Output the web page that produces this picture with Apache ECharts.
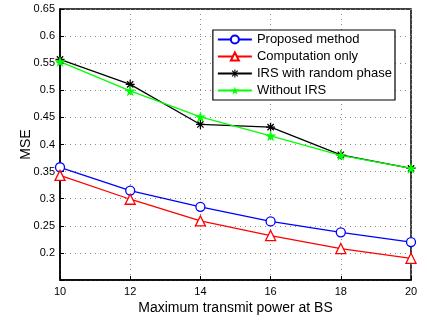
<!DOCTYPE html>
<html>
<head>
<meta charset="utf-8">
<script src="https://cdn.jsdelivr.net/npm/echarts@6/dist/echarts.min.js"></script>
<style>
  html, body { margin: 0; padding: 0; background: #fff; }
  #chart { width: 427px; height: 320px; }
</style>
</head>
<body>
<div id="chart"></div>
<script>
const powers = [10, 12, 14, 16, 18, 20]
const proposed = [0.358, 0.315, 0.285, 0.258, 0.238, 0.220]
const computationOnly = [0.343, 0.299, 0.259, 0.232, 0.208, 0.190]
const irsRandomPhase = [0.557, 0.511, 0.437, 0.432, 0.381, 0.356]
const withoutIrs = [0.553, 0.499, 0.451, 0.416, 0.380, 0.356]

// asterisk marker, made of thin bars
const asterisk = 'path://M-5,-0.7L5,-0.7L5,0.7L-5,0.7Z M-0.7,-5L0.7,-5L0.7,5L-0.7,5Z M-4,-3L-3,-4L4,3L3,4Z M3,-4L4,-3L-3,4L-4,3Z'
const star = 'path://M0,-10L2.35,-3.24L9.51,-3.09L3.8,1.24L5.88,8.09L0,4L-5.88,8.09L-3.8,1.24L-9.51,-3.09L-2.35,-3.24Z'

const font = 'Liberation Sans, Arial, sans-serif'

function line(name, values, color, symbol, size, fill) {
  return {
    name,
    type: 'line',
    data: powers.map((p, i) => [p, values[i]]),
    symbol,
    symbolSize: size,
    showSymbol: true,
    lineStyle: { color, width: 1.3 },
    itemStyle: { color: fill ? color : '#fff', borderColor: color, borderWidth: fill ? 0 : 1.3 },
    animation: false,
  }
}

const chart = echarts.init(document.getElementById('chart'))
chart.setOption({
  backgroundColor: '#fff',
  animation: false,
  grid: { left: 60, right: 16, top: 9, bottom: 35, show: true, borderColor: '#000', borderWidth: 1.5 },
  legend: {
    right: 32,
    top: 30,
    orient: 'vertical',
    itemGap: 4,
    itemWidth: 34,
    itemHeight: 10,
    padding: [3, 3, 3, 4],
    borderColor: '#000',
    borderWidth: 1.2,
    backgroundColor: '#fff',
    textStyle: { fontFamily: font, fontSize: 13, color: '#000' },
    data: ['Proposed method', 'Computation only', 'IRS with random phase', 'Without IRS'],
  },
  xAxis: {
    type: 'value',
    min: 10,
    max: 20,
    interval: 2,
    name: 'Maximum transmit power at BS',
    nameLocation: 'middle',
    nameGap: 21,
    nameMoveOverlap: false,
    nameTextStyle: { fontFamily: font, fontSize: 14, color: '#000' },
    axisLine: { show: true, lineStyle: { color: '#000', width: 1.5 } },
    axisTick: { inside: true, length: 4, lineStyle: { color: '#000' } },
    axisLabel: { fontFamily: font, fontSize: 11, color: '#000', margin: 6 },
    splitLine: { show: true, lineStyle: { color: '#888', type: [1, 4], width: 1 } },
  },
  yAxis: {
    type: 'value',
    min: 0.15,
    max: 0.65,
    interval: 0.05,
    name: 'MSE',
    nameLocation: 'middle',
    nameGap: 27,
    nameMoveOverlap: false,
    nameTextStyle: { fontFamily: font, fontSize: 14, color: '#000' },
    axisLine: { show: true, lineStyle: { color: '#000', width: 1.5 } },
    axisTick: { inside: true, length: 4, lineStyle: { color: '#000' } },
    axisLabel: {
      fontFamily: font,
      fontSize: 11,
      color: '#000',
      margin: 5,
      formatter: (v) => (Math.abs(v - 0.15) < 1e-6 ? '' : String(+v.toFixed(2))),
    },
    splitLine: { show: true, lineStyle: { color: '#888', type: [1, 4], width: 1 } },
  },
  series: [
    line('Proposed method', proposed, '#0000ff', 'circle', 9, false),
    line('Computation only', computationOnly, '#ff0000', 'triangle', 10, false),
    line('IRS with random phase', irsRandomPhase, '#000000', asterisk, 9, true),
    line('Without IRS', withoutIrs, '#00ff00', star, 11, true),
  ],
})
</script>
</body>
</html>
